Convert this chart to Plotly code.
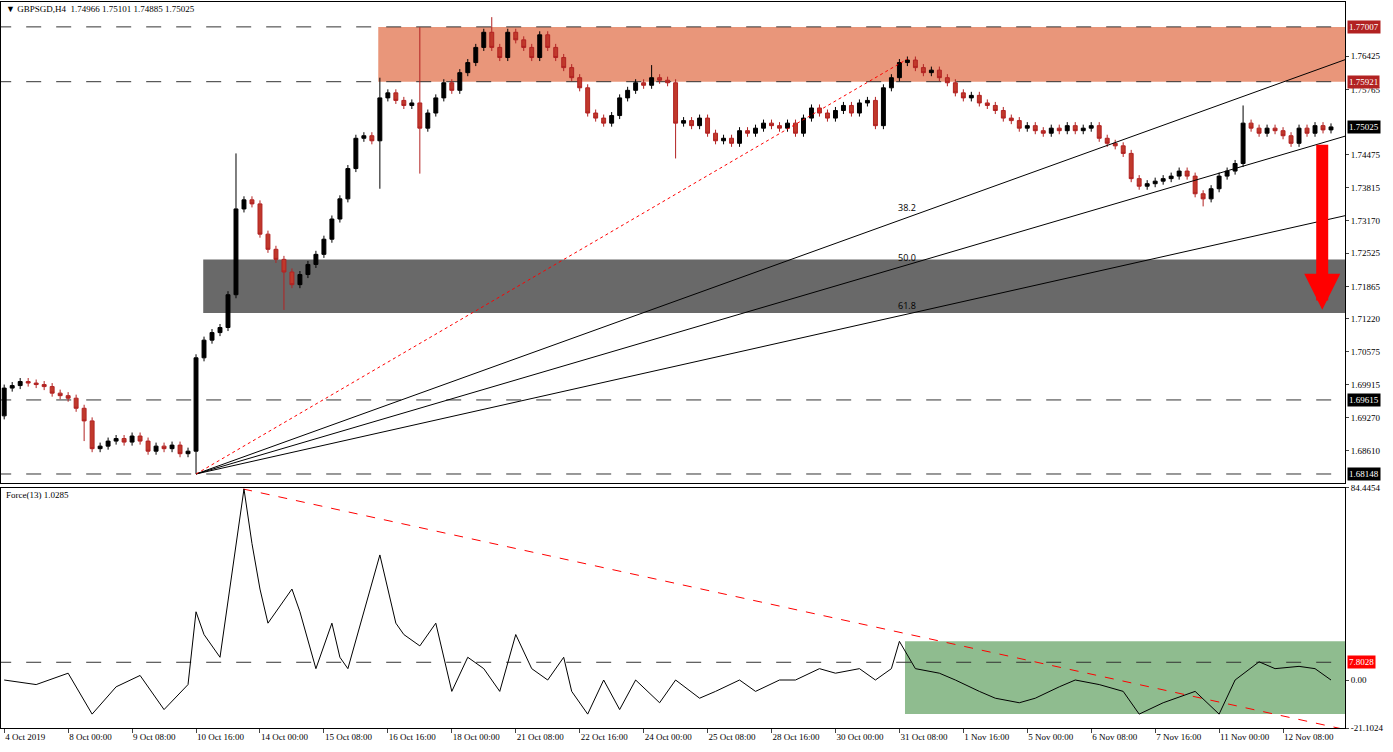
import plotly.graph_objects as go

closes = [1.6985,1.6990,1.6998,1.6995,1.6992,1.6988,1.6975,1.6970,1.6965,1.6945,1.6920,
1.6865,1.6870,1.6880,1.6885,1.6878,1.6890,1.6880,1.6860,1.6870,1.6865,1.6872,1.6855,1.6860,
1.7045,1.7080,1.7095,1.7105,1.7170,1.7340,1.7358,1.7350,1.7290,1.7260,1.7240,1.7215,1.7190,1.7210,1.7230,1.7250,
1.7280,1.7320,1.7360,1.7420,1.7480,1.7485,1.7475,1.7560,1.7570,1.7555,1.7545,1.7550,1.7500,1.7530,1.7560,1.7590,
1.7575,1.7610,1.7630,1.7660,1.7690,1.7660,1.7640,1.7690,1.7675,1.7660,1.7640,1.7685,1.7660,1.7640,1.7620,1.7600,
1.7580,1.7530,1.7520,1.7510,1.7525,1.7560,1.7575,1.7590,1.7585,1.7600,1.7595,1.7590,1.7510,1.7515,1.7505,1.7520,
1.7490,1.7475,1.7480,1.7470,1.7495,1.7490,1.7500,1.7510,1.7505,1.7500,1.7510,1.7490,1.7520,1.7540,1.7530,1.7520,
1.7535,1.7545,1.7530,1.7550,1.7555,1.7505,1.7580,1.7600,1.7630,1.7635,1.7620,1.7610,1.7615,1.7600,1.7590,1.7570,
1.7560,1.7565,1.7550,1.7545,1.7535,1.7520,1.7515,1.7500,1.7505,1.7495,1.7490,1.7500,1.7495,1.7505,1.7495,1.7500,
1.7505,1.7480,1.7470,1.7465,1.7450,1.7400,1.7385,1.7390,1.7395,1.7400,1.7405,1.7415,1.7405,1.7370,1.7360,1.7380,
1.7405,1.7415,1.7430,1.7510,1.7500,1.7490,1.7500,1.7495,1.7485,1.7470,1.7500,1.7490,1.7505,1.74966,1.75025]
first_open = 1.6930
wick_default = 0.0007
high_extra = {29: 1.7450, 52: 1.7700, 61: 1.7720, 47: 1.7600, 155: 1.7545, 24: 1.7050, 81: 1.7625}
low_extra = {24: 1.68148, 47: 1.7380, 52: 1.7410, 35: 1.7140, 84: 1.7440, 10: 1.6880, 150: 1.7345}

force_x = [0,4,8,11,14,17,20,23,24,25,27,29,30,31,32,33,34,36,37,39,41,42,43,45,47,49,50,52,54,56,58,60,62,64,
66,68,70,71,73,75,77,79,82,84,87,89,92,94,97,99,102,104,107,109,111,112,114,117,119,122,124,127,129,132,134,137,
140,142,145,149,152,154,157,159,162,164,166]
force_y = [0,-2,3,-15,-3,2,-13,-2,30,20,10,60,84,60,40,25,30,40,30,5,25,10,5,30,55,25,20,15,25,-5,10,5,-5,20,
5,0,10,-5,-15,0,-13,0,-10,0,-8,-5,0,-5,0,0,5,3,5,0,5,17,5,3,0,-5,-8,-10,-8,-3,0,-2,
-5,-15,-10,-5,-15,0,8,5,6,5,0]

xlabels = ["4 Oct 2019","8 Oct 00:00","9 Oct 08:00","10 Oct 16:00","14 Oct 00:00","15 Oct 08:00","16 Oct 16:00",
"18 Oct 00:00","21 Oct 08:00","22 Oct 16:00","24 Oct 00:00","25 Oct 08:00","28 Oct 16:00","30 Oct 00:00",
"31 Oct 08:00","1 Nov 16:00","5 Nov 00:00","6 Nov 08:00","7 Nov 16:00","11 Nov 00:00","12 Nov 08:00"]
ytick_vals = [1.76425,1.75765,1.74475,1.73815,1.73170,1.72525,1.71865,1.71220,1.70575,1.69915,1.69270,1.68610,1.67965]
levels = [1.77007,1.75921,1.69615,1.68148]

n = len(closes)
xs = list(range(n))
opens = [first_open] + closes[:-1]
highs = [max(high_extra.get(i, 0), max(o, c) + wick_default) for i, (o, c) in enumerate(zip(opens, closes))]
lows = [min(low_extra.get(i, 9), min(o, c) - wick_default) for i, (o, c) in enumerate(zip(opens, closes))]

XMAX = 167.75
fig = go.Figure()
fig.add_shape(type="rect", xref="x", yref="y", x0=46.8, x1=XMAX, y0=1.75921, y1=1.77007,
              fillcolor="#E9967A", line_width=0, layer="below")
fig.add_shape(type="rect", xref="x", yref="y", x0=24.9, x1=XMAX, y0=1.7134, y1=1.7240,
              fillcolor="#696969", line_width=0, layer="below")
for lv in levels:
    fig.add_shape(type="line", xref="x", yref="y", x0=-1, x1=XMAX, y0=lv, y1=lv,
                  line=dict(color="#333", width=1, dash="longdash"), layer="below")

fig.add_trace(go.Candlestick(x=xs, open=opens, high=highs, low=lows, close=closes,
    increasing=dict(line=dict(color="black", width=1), fillcolor="black"),
    decreasing=dict(line=dict(color="#B22222", width=1), fillcolor="#C0392B"),
    whiskerwidth=0, xaxis="x", yaxis="y", showlegend=False, hoverinfo="skip"))

for p in [1.76357, 1.74841, 1.73266]:
    fig.add_trace(go.Scatter(x=[24, XMAX], y=[1.68148, p], mode="lines",
                             line=dict(color="black", width=1), xaxis="x", yaxis="y", showlegend=False))
fig.add_trace(go.Scatter(x=[24, 113], y=[1.68148, 1.7637], mode="lines",
                         line=dict(color="red", width=1, dash="dot"), xaxis="x", yaxis="y", showlegend=False))
for lab, yv in [("38.2", 1.7330), ("50.0", 1.7232), ("61.8", 1.7137)]:
    fig.add_annotation(x=113, y=yv, xref="x", yref="y", text=lab, showarrow=False,
                       font=dict(size=9, color="black"), yshift=6)
fig.add_annotation(x=164.9, y=1.7140, ax=164.9, ay=1.7470, xref="x", yref="y", axref="x", ayref="y",
                   showarrow=True, arrowhead=2, arrowsize=0.6, arrowwidth=12, arrowcolor="#FF0000", text="")

fig.add_shape(type="rect", xref="x2", yref="y2", x0=112.7, x1=XMAX, y0=-15, y1=17,
              fillcolor="#8FBC8F", line_width=0, layer="below")
fig.add_shape(type="line", xref="x2", yref="y2", x0=-1, x1=XMAX, y0=7.8028, y1=7.8028,
              line=dict(color="#333", width=1, dash="longdash"), layer="below")
fig.add_trace(go.Scatter(x=[29.9, 170], y=[84, -23.5], mode="lines",
                         line=dict(color="red", width=1, dash="dash"), xaxis="x2", yaxis="y2", showlegend=False))
fig.add_trace(go.Scatter(x=force_x, y=force_y, mode="lines", line=dict(color="black", width=1),
                         xaxis="x2", yaxis="y2", showlegend=False))

def badge(y, text, bg, yref="y"):
    fig.add_annotation(x=1.0, xref="paper", y=y, yref=yref, text=text, showarrow=False, xanchor="left",
                       xshift=2, bgcolor=bg, font=dict(color="white", size=9, family="Verdana"), borderpad=1)
badge(1.77007, "1.77007", "#B22222")
badge(1.75921, "1.75921", "#B22222")
badge(1.75025, "1.75025", "black")
badge(1.69615, "1.69615", "black")
badge(1.68148, "1.68148", "black")
badge(7.8028, "7.8028", "#FF0000", "y2")

fig.add_annotation(x=0.002, y=1.0, xref="paper", yref="paper", xanchor="left", yanchor="top", showarrow=False,
                   text="▼ GBPSGD,H4  1.74966 1.75101 1.74885 1.75025", font=dict(size=9, color="black", family="Verdana"))
fig.add_annotation(x=0.002, y=0.33, xref="paper", yref="paper", xanchor="left", yanchor="top", showarrow=False,
                   text="Force(13) 1.0285", font=dict(size=9, color="black", family="Verdana"))

axfont = dict(size=9, color="black", family="Verdana")
fig.update_layout(
    width=1393, height=752, margin=dict(l=1, r=48, t=2, b=24),
    paper_bgcolor="white", plot_bgcolor="white", hovermode=False,
    xaxis=dict(domain=[0, 1], range=[-0.4, XMAX], showticklabels=False, rangeslider=dict(visible=False),
               showgrid=False, zeroline=False, anchor="y", mirror=True, showline=True, linecolor="black", automargin=False),
    yaxis=dict(domain=[0.3375, 1], range=[1.6797, 1.7750], side="right", tickvals=ytick_vals,
               ticktext=[f"{v:.5f}" for v in ytick_vals], tickfont=axfont, showgrid=False, zeroline=False,
               ticks="outside", ticklen=3, showline=True, linecolor="black", mirror=True, anchor="x", automargin=False),
    xaxis2=dict(domain=[0, 1], range=[-0.4, XMAX], tickvals=list(range(0, 161, 8)), ticktext=xlabels,
                tickfont=axfont, showgrid=False, zeroline=False, ticklabelposition="outside right",
                ticks="outside", ticklen=4, anchor="y2", showline=True, linecolor="black", mirror=True, automargin=False),
    yaxis2=dict(domain=[0, 0.3306], range=[-21.1024, 84.4454], side="right", tickvals=[84.4454, 0, -21.1024],
                ticktext=["84.4454", "0.00", "-21.1024"], tickfont=axfont, showgrid=False, zeroline=False,
                ticks="outside", ticklen=3, showline=True, linecolor="black", mirror=True, anchor="x2", automargin=False),
)
fig.write_html("out.html", config={"displayModeBar": False},
               post_script="document.body.style.margin='0';document.body.style.overflow='hidden';")
